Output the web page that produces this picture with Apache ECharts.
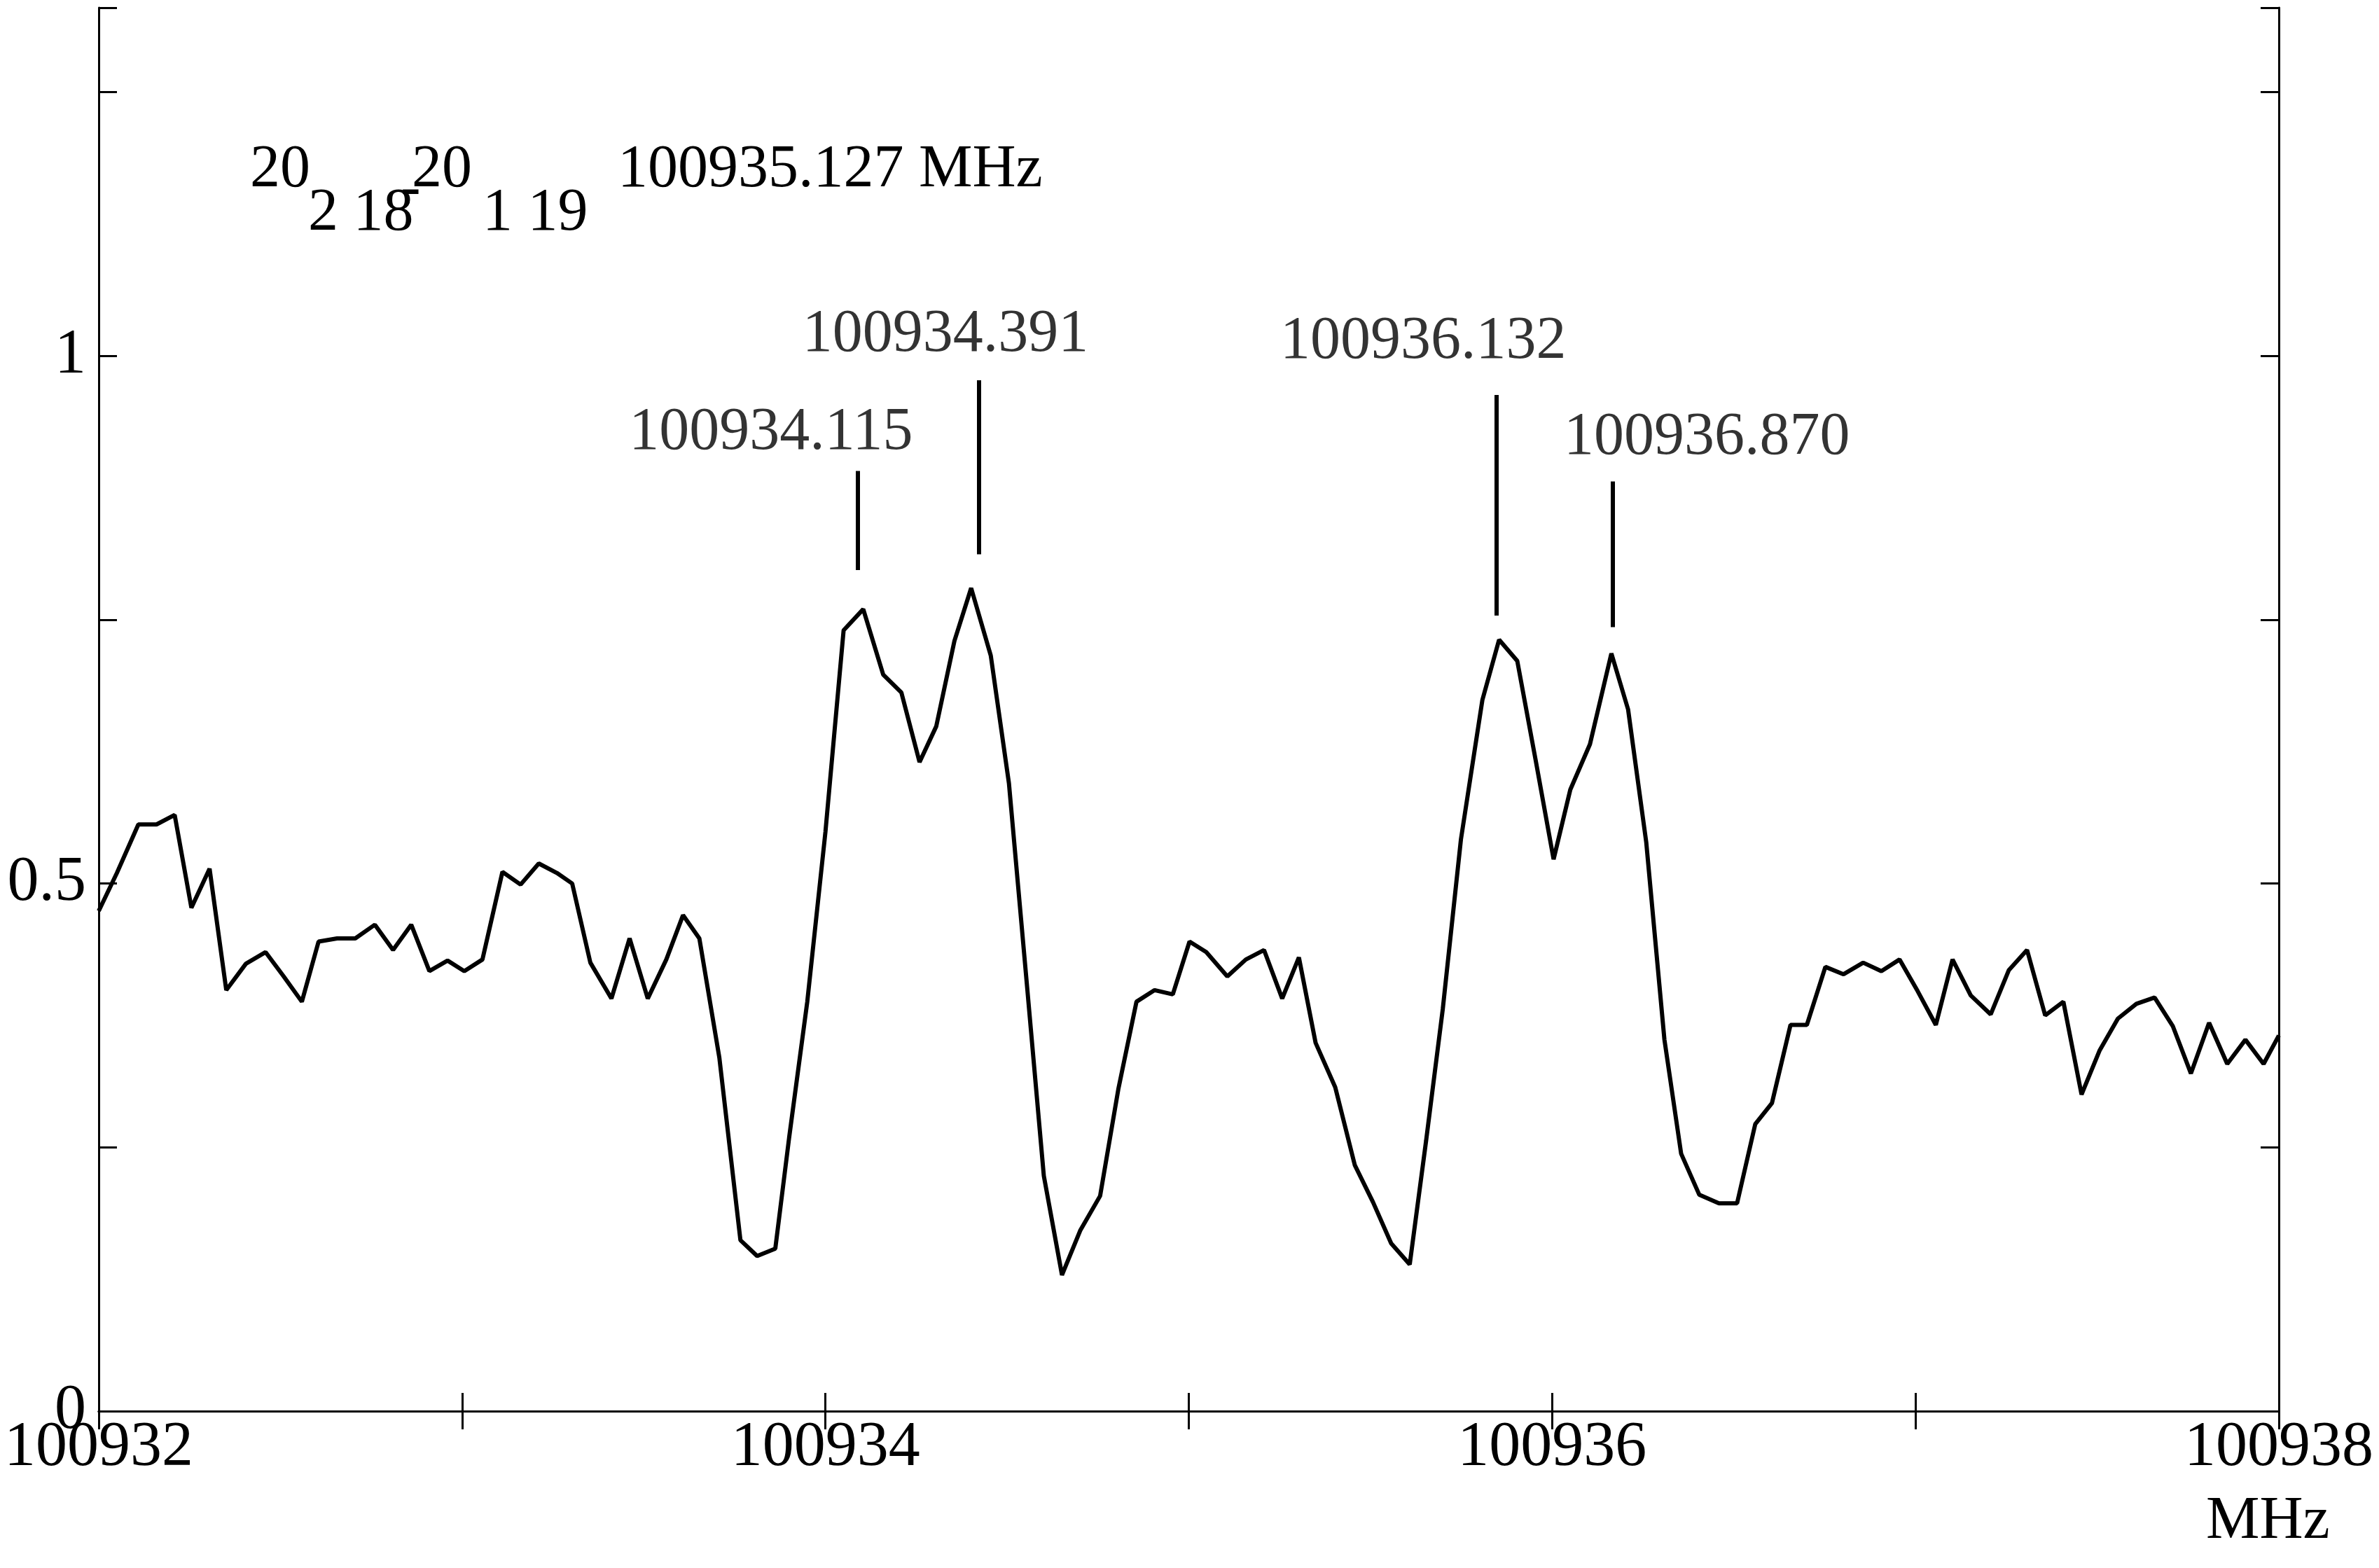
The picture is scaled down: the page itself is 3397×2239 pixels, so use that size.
<!DOCTYPE html>
<html>
<head>
<meta charset="utf-8">
<script src="https://cdn.jsdelivr.net/npm/echarts@6/dist/echarts.min.js"></script>
<style>
  html, body { margin: 0; padding: 0; background: #fff; }
  #chart { width: 3397px; height: 2239px; }
</style>
</head>
<body>
<div id="chart"></div>
<script>
// frequency axis starts here, offsets in MHz
const baseFreq = 100932;
const freqOffset = [0.000, 0.050, 0.109, 0.159, 0.209, 0.255, 0.305, 0.351, 0.405, 0.459, 0.509, 0.559, 0.605, 0.656, 0.706, 0.760, 0.810, 0.860, 0.910, 0.960,
  1.006, 1.056, 1.111, 1.161, 1.211, 1.261, 1.303, 1.353, 1.411, 1.461, 1.511, 1.562, 1.608, 1.653, 1.708, 1.766, 1.812, 1.862, 1.900, 1.950,
  2.000, 2.050, 2.104, 2.159, 2.209, 2.259, 2.305, 2.355, 2.401, 2.455, 2.505, 2.555, 2.601, 2.651, 2.701, 2.756, 2.806, 2.856, 2.906, 2.956,
  3.002, 3.048, 3.106, 3.157, 3.207, 3.257, 3.303, 3.349, 3.403, 3.457, 3.507, 3.557, 3.608, 3.653, 3.699, 3.749, 3.808, 3.854, 3.904, 3.954,
  4.004, 4.050, 4.104, 4.163, 4.209, 4.259, 4.309, 4.355, 4.405, 4.459, 4.509, 4.559, 4.605, 4.656, 4.701, 4.752, 4.802, 4.856, 4.906, 4.956,
  5.006, 5.056, 5.102, 5.152, 5.207, 5.257, 5.307, 5.357, 5.407, 5.457, 5.507, 5.557, 5.608, 5.658, 5.708, 5.758, 5.808, 5.858, 5.908, 5.958, 6.000];
const intensity = [0.474, 0.510, 0.556, 0.556, 0.565, 0.477, 0.514, 0.399, 0.424, 0.435, 0.412, 0.388, 0.445, 0.448, 0.448, 0.461, 0.437, 0.461, 0.417, 0.427,
  0.417, 0.428, 0.511, 0.499, 0.519, 0.510, 0.500, 0.425, 0.391, 0.448, 0.391, 0.428, 0.470, 0.448, 0.335, 0.162, 0.147, 0.154, 0.259, 0.388,
  0.549, 0.740, 0.760, 0.698, 0.681, 0.615, 0.649, 0.730, 0.780, 0.716, 0.595, 0.402, 0.223, 0.129, 0.171, 0.204, 0.305, 0.388, 0.399, 0.395,
  0.445, 0.435, 0.412, 0.428, 0.437, 0.391, 0.430, 0.349, 0.307, 0.233, 0.198, 0.159, 0.139, 0.256, 0.381, 0.542, 0.674, 0.731, 0.711, 0.618,
  0.523, 0.589, 0.632, 0.718, 0.665, 0.539, 0.352, 0.244, 0.205, 0.197, 0.197, 0.272, 0.292, 0.366, 0.366, 0.421, 0.414, 0.425, 0.417, 0.428,
  0.398, 0.366, 0.428, 0.394, 0.376, 0.418, 0.437, 0.375, 0.388, 0.300, 0.342, 0.372, 0.386, 0.392, 0.365, 0.320, 0.368, 0.329, 0.352, 0.329, 0.356];

// marker sticks: offset, bottom, top
const markX = [2.088, 2.422, 3.846, 4.167];
const markLow = [0.797, 0.812, 0.754, 0.743];
const markHigh = [0.891, 0.977, 0.963, 0.881];
const labelText = ['100934.115', '100934.391', '100936.132', '100936.870'];
const labelX = [1.850, 2.330, 3.645, 4.426];
const labelY = [0.927, 1.020, 1.013, 0.922];

const font = 'Liberation Serif';
const chart = echarts.init(document.getElementById('chart'));

const lineData = freqOffset.map((f, i) => [baseFreq + f, intensity[i]]);
const markData = markX.map((f, i) => [
  { coord: [baseFreq + f, markLow[i]] },
  { coord: [baseFreq + f, markHigh[i]] }
]);
const labelData = labelText.map((t, i) => ({ value: [baseFreq + labelX[i], labelY[i]], name: t }));

const axisCommon = {
  axisLine: { show: true, lineStyle: { color: '#000', width: 3 } },
  axisTick: { show: true, inside: true, length: 26, lineStyle: { color: '#000', width: 3 } },
  splitLine: { show: false }
};

const txt = (text, left, top) => ({
  type: 'text', left, top,
  style: { text, font: '86px "Liberation Serif"', fill: '#000' }
});

chart.setOption({
  animation: false,
  backgroundColor: '#fff',
  grid: { left: 141, right: 143, top: 11, bottom: 224 },
  xAxis: [{
    type: 'value', min: 100932, max: 100938, interval: 1,
    ...axisCommon,
    axisLabel: {
      fontFamily: font, fontSize: 90, color: '#000', margin: 8,
      formatter: v => (Math.round(v) % 2 === 0 ? String(Math.round(v)) : '')
    }
  }, {
    type: 'value', position: 'top', min: 100932, max: 100938, interval: 1,
    ...axisCommon, axisLabel: { show: false }
  }],
  yAxis: [{
    type: 'value', min: 0, max: 1.33, interval: 0.25,
    ...axisCommon,
    axisLabel: {
      fontFamily: font, fontSize: 90, color: '#000', margin: 18,
      formatter: v => (Math.abs(v * 2 - Math.round(v * 2)) < 1e-6 ? String(v) : '')
    }
  }, {
    type: 'value', position: 'right', min: 0, max: 1.33, interval: 0.25,
    ...axisCommon, axisLabel: { show: false }
  }],
  series: [{
    type: 'line',
    data: lineData,
    showSymbol: false,
    lineStyle: { color: '#000', width: 6 },
    markLine: {
      silent: true, symbol: 'none',
      lineStyle: { color: '#000', width: 6, type: 'solid', opacity: 1 },
      label: { show: false },
      emphasis: { disabled: true },
      data: markData
    }
  }, {
    type: 'scatter',
    data: labelData,
    symbolSize: 1,
    itemStyle: { color: 'transparent' },
    label: {
      show: true, position: 'inside', formatter: p => p.name,
      fontFamily: font, fontSize: 86, color: '#000', textBorderWidth: 0
    }
  }],
  graphic: [
    txt('20', 357, 200),
    txt('2 18', 440, 262),
    txt('-', 572, 228),
    txt('20', 588, 200),
    txt('1 19', 689, 262),
    txt('100935.127 MHz', 882, 200),
    txt('MHz', 3150, 2130)
  ]
});
</script>
</body>
</html>
